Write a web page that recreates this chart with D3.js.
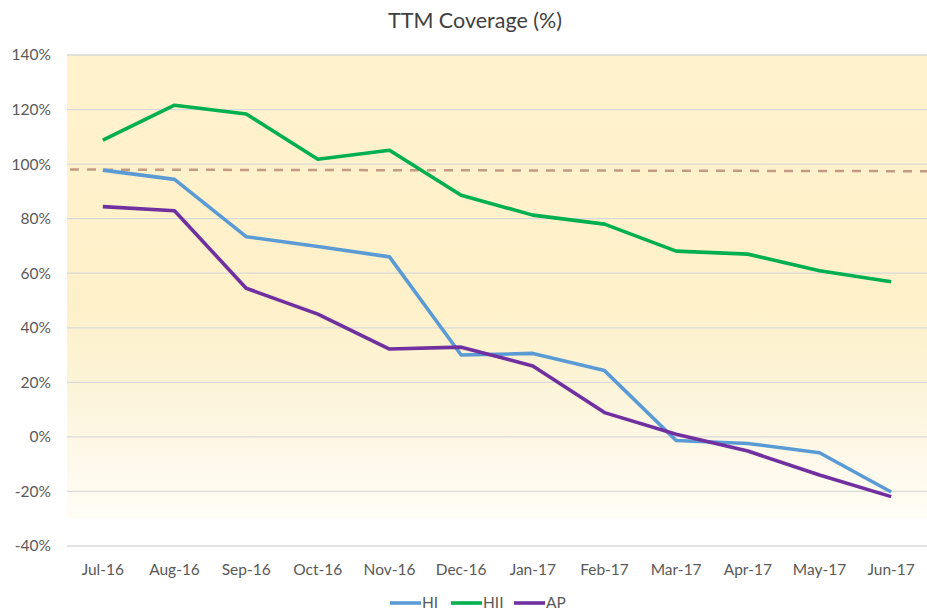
<!DOCTYPE html>
<html>
<head>
<meta charset="utf-8">
<script src="https://cdn.jsdelivr.net/npm/d3@7"></script>
<style>
  html, body { margin: 0; padding: 0; background: #fff; }
  svg { display: block; }
</style>
</head>
<body>
<svg id="chart" width="927" height="611"></svg>
<script>
const categories = ["Jul-16","Aug-16","Sep-16","Oct-16","Nov-16","Dec-16","Jan-17","Feb-17","Mar-17","Apr-17","May-17","Jun-17"];
const seriesNames = ["HI","HII","AP"];
const hiValues  = [97.8, 94.4, 73.4, 69.8, 66.0, 30.0, 30.6, 24.3, -1.3, -2.4, -5.8, -20.2];
const hiiValues = [108.8, 121.6, 118.4, 101.8, 105.1, 88.6, 81.3, 78.0, 68.1, 67.0, 60.9, 56.9];
const apValues  = [84.4, 82.9, 54.5, 45.0, 32.2, 32.9, 26.0, 8.9, 1.0, -5.2, -14.0, -21.9];
const refLineValues = [98.0, 97.4];
const yTicks = [-40, -20, 0, 20, 40, 60, 80, 100, 120, 140];
const bandBottomValue = -30;
const title = "TTM Coverage (%)";

const colors = { HI: "#5B9BD5", HII: "#00B050", AP: "#7030A0" };
const seriesData = { HI: hiValues, HII: hiiValues, AP: apValues };

const svg = d3.select("#chart");
const W = 927;
const plotLeft = 67, plotTop = 55, plotBottom = 546;

const x = d3.scaleBand().domain(categories).range([plotLeft, W]).padding(0);
const y = d3.scaleLinear().domain([-40, 140]).range([plotBottom, plotTop]);
const xc = c => x(c) + x.bandwidth() / 2;

const defs = svg.append("defs");
const grad = defs.append("linearGradient").attr("id", "bg").attr("x1", 0).attr("y1", 0).attr("x2", 0).attr("y2", 1);
grad.append("stop").attr("offset", "0").attr("stop-color", "#FFF2CC");
grad.append("stop").attr("offset", "0.55").attr("stop-color", "#FEF1CA");
grad.append("stop").attr("offset", "0.72").attr("stop-color", "#FCF4D8");
grad.append("stop").attr("offset", "0.86").attr("stop-color", "#FEF8E9");
grad.append("stop").attr("offset", "1").attr("stop-color", "#FFFDF5");

svg.append("rect")
  .attr("x", plotLeft).attr("y", y(140))
  .attr("width", W - plotLeft).attr("height", y(bandBottomValue) - y(140))
  .attr("fill", "url(#bg)");

// gridlines
svg.append("g").selectAll("line").data(yTicks).join("line")
  .attr("x1", plotLeft).attr("x2", W)
  .attr("y1", d => y(d)).attr("y2", d => y(d))
  .attr("stroke", "#D9D9D9").attr("stroke-width", 1.3);

const font = "Lato, 'Open Sans', sans-serif";
// y labels
svg.append("g").selectAll("text").data(yTicks).join("text")
  .attr("x", 51).attr("y", d => y(d)).attr("dy", "0.35em")
  .attr("text-anchor", "end")
  .attr("font-family", font).attr("font-size", 15.5).attr("fill", "#595959")
  .text(d => d + "%");

// x labels
svg.append("g").selectAll("text").data(categories).join("text")
  .attr("x", d => xc(d)).attr("y", 570).attr("dy", "0.35em")
  .attr("text-anchor", "middle")
  .attr("font-family", font).attr("font-size", 15.5).attr("fill", "#595959")
  .text(d => d);

// reference dotted line
svg.append("line")
  .attr("x1", plotLeft + 3).attr("x2", W)
  .attr("y1", y(refLineValues[0])).attr("y2", y(refLineValues[1]))
  .attr("stroke", "#C39A84").attr("stroke-width", 2.5)
  .attr("stroke-dasharray", "9,8");

// series lines
const line = d3.line().x((d, i) => xc(categories[i])).y(d => y(d));
seriesNames.forEach(name => {
  svg.append("path")
    .datum(seriesData[name])
    .attr("d", line)
    .attr("fill", "none")
    .attr("stroke", colors[name])
    .attr("stroke-width", 3.6)
    .attr("stroke-linejoin", "round");
});

// title
svg.append("text")
  .attr("x", 475).attr("y", 20).attr("dy", "0.35em")
  .attr("text-anchor", "middle")
  .attr("font-family", font).attr("font-size", 21.5).attr("fill", "#404040")
  .text(title);

// legend
const legendItems = [
  { name: "HI", x: 390 },
  { name: "HII", x: 451 },
  { name: "AP", x: 514 }
];
const lg = svg.append("g");
legendItems.forEach(it => {
  lg.append("line")
    .attr("x1", it.x).attr("x2", it.x + 31)
    .attr("y1", 603).attr("y2", 603)
    .attr("stroke", colors[it.name]).attr("stroke-width", 3.6);
  lg.append("text")
    .attr("x", it.x + 32).attr("y", 603).attr("dy", "0.35em")
    .attr("font-family", font).attr("font-size", 15.5).attr("fill", "#595959")
    .text(it.name);
});
</script>
</body>
</html>
